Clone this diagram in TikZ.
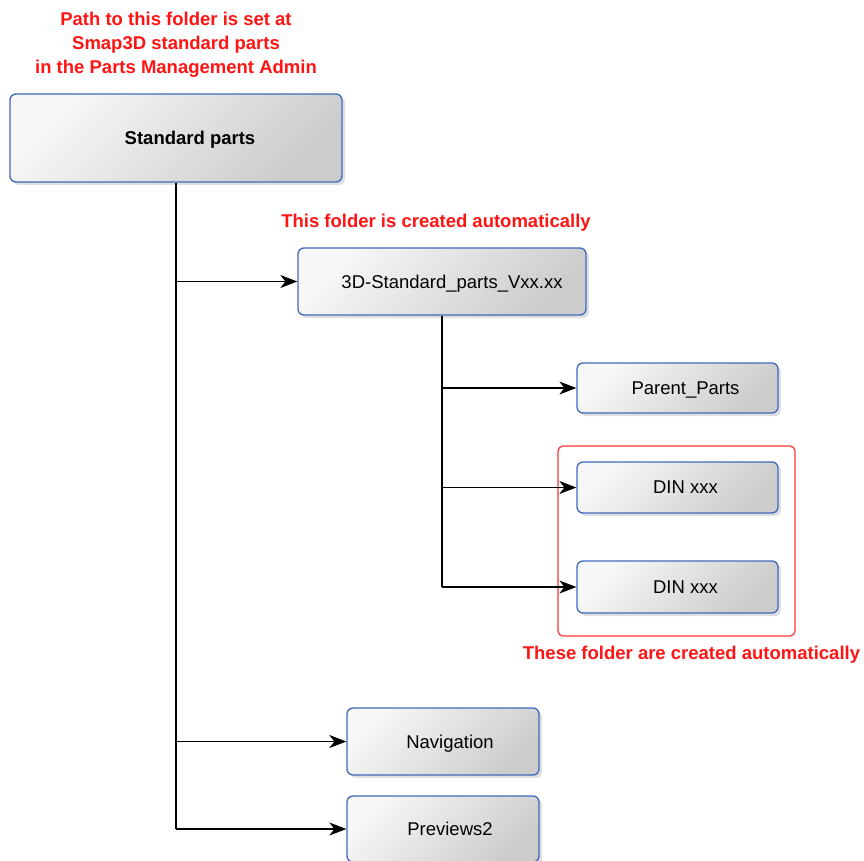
\documentclass[tikz,border=0pt]{standalone}
\usepackage{fontspec}
\setmainfont{Liberation Sans}
\usetikzlibrary{arrows.meta,shadows}
\definecolor{boxblue}{RGB}{64,104,192}
\definecolor{txtred}{RGB}{255,20,20}
\definecolor{grpred}{RGB}{255,50,50}
\begin{document}
\begin{tikzpicture}[x=1pt,y=-1pt,
  every node/.style={font=\fontsize{18.5}{24}\selectfont},
  folder/.style={draw=boxblue, line width=1.3pt, rounded corners=6pt,
    top color=white!97!black, bottom color=black!20, shading angle=45,
    drop shadow={opacity=0.25, shadow xshift=3pt, shadow yshift=-3pt},
    inner sep=0pt, text depth=0pt},
  note/.style={text=txtred, font=\fontsize{18.5}{24}\selectfont\bfseries, align=center, inner sep=0pt},
  link/.style={line width=1.4pt, draw=black},
  arr/.style={link, -{Stealth[length=17pt,width=13pt,inset=5pt]}}]
\useasboundingbox (0,0) rectangle (864,861);

% red notes
\node[note] (note1) at (176,45) {Path to this folder is set at\\Smap3D standard parts\\in the Parts Management Admin};
\node[note] (note2) at (436,223) {This folder is created automatically};
\node[note] (note3) at (691.5,655) {These folder are created automatically};

% red group frame
\node[draw=grpred, line width=1.2pt, rounded corners=5pt, minimum width=237pt, minimum height=190pt, inner sep=0pt] (grp) at (676.5,541) {};

% folders
\node[folder, minimum width=332pt, minimum height=88pt] (std) at (176,138) {\hspace*{28pt}\bfseries Standard parts};
\node[folder, minimum width=288pt, minimum height=67pt] (d3) at (442,281.5) {\hspace*{20pt}3D-Standard\_parts\_Vxx.xx};
\node[folder, minimum width=201pt, minimum height=50pt] (pp) at (677.5,388) {\hspace*{16pt}Parent\_Parts};
\node[folder, minimum width=201pt, minimum height=51pt] (din1) at (677.5,487.5) {\hspace*{16pt}DIN xxx};
\node[folder, minimum width=201pt, minimum height=52pt] (din2) at (677.5,587) {\hspace*{16pt}DIN xxx};
\node[folder, minimum width=192pt, minimum height=67pt] (nav) at (443,741.5) {\hspace*{14pt}Navigation};
\node[folder, minimum width=192pt, minimum height=66pt] (prev) at (443,829) {\hspace*{14pt}Previews2};

% connectors
\draw[link] (std.south) -- (std.south |- prev.west);
\draw[arr] (std.south |- d3.west) -- (d3.west);
\draw[arr] (std.south |- nav.west) -- (nav.west);
\draw[arr] (std.south |- prev.west) -- (prev.west);

\draw[link] (d3.south) -- (d3.south |- din2.west);
\draw[arr] (d3.south |- pp.west) -- (pp.west);
\draw[arr] (d3.south |- din1.west) -- (din1.west);
\draw[arr] (d3.south |- din2.west) -- (din2.west);
\end{tikzpicture}
\end{document}
